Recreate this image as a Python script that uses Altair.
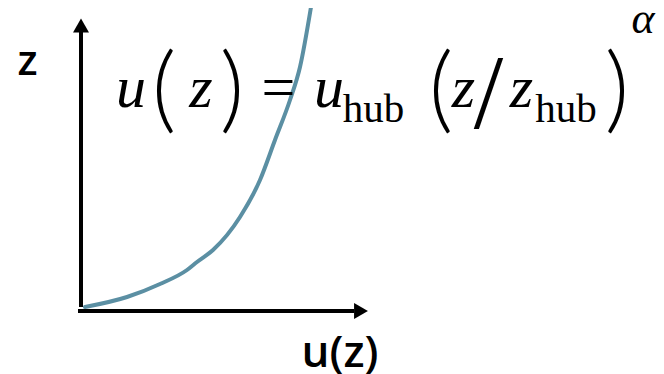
import altair as alt
import pandas as pd

# Wind profile curve u(z) (arbitrary units)
u_vals = [0.4, 4.6, 7.9, 10.6, 11.6, 13.2, 15.9, 17.9, 19.4, 20.9, 21.9, 23.0]
z_vals = [0.4, 1.4, 2.7, 4.1, 4.9, 6.1, 9.4, 13.1, 17.1, 21.1, 24.4, 30.4]

curve = pd.DataFrame({"u": u_vals, "z": z_vals, "order": list(range(len(u_vals)))})

W, H = 648, 366
one = alt.Data(values=[{"k": 1}])

xs = alt.Scale(domain=[-7.3, 57.5], nice=False, zero=False)
ys = alt.Scale(domain=[-6.3, 30.3], nice=False, zero=False)

line = alt.Chart(curve).mark_line(color="#5b8fa3", strokeWidth=4, strokeCap="round",
                                  interpolate="monotone").encode(
    x=alt.X("u:Q", scale=xs, axis=None),
    y=alt.Y("z:Q", scale=ys, axis=None),
    order="order:O",
)

def rule(x, x2, y, y2):
    return alt.Chart(one).mark_rule(color="black", strokeWidth=4).encode(
        x=alt.value(x), x2=alt.value(x2), y=alt.value(y), y2=alt.value(y2))

vaxis = rule(73, 73, 299, 24)
haxis = rule(70, 346, 303, 303)

def arrow(shape, x, y):
    return alt.Chart(one).mark_point(shape=shape, size=256, filled=True, color="black", opacity=1).encode(
        x=alt.value(x), y=alt.value(y))

varrow = arrow("triangle-up", 73, 17.5)
harrow = arrow("triangle-right", 353, 303)

def txt(s, x, y, size, font="Liberation Serif", style="normal", weight="normal", align="center"):
    return alt.Chart(one).mark_text(text=s, fontSize=size, font=font, fontStyle=style,
                                    fontWeight=weight, align=align, baseline="alphabetic",
                                    color="black").encode(x=alt.value(x), y=alt.value(y))

zlab = txt("z", 19.5, 67, 42, font="Open Sans", weight=600)
ulab = txt("u(z)", 332, 359, 44, font="Open Sans", weight=600)

F = 60   # main math font size
P = 95   # big parentheses
S = 41   # subscript
PF = "Lato"
eq = [
    txt("u", 123, 99, F, style="italic"),
    txt("(", 156, 113, P, font=PF, weight=300),
    txt("z", 193, 99, F, style="italic"),
    txt(")", 224, 113, P, font=PF, weight=300),
    txt("=", 270.5, 99, F),
    txt("u", 321, 99, F, style="italic"),
    txt("hub", 365.5, 114, S),
    txt("(", 433, 113, P, font=PF, weight=300),
    txt("z", 455.5, 99, F, style="italic"),
    txt("/", 480.5, 120, 106),
    txt("z", 513.5, 99, F, style="italic"),
    txt("hub", 558, 114, S),
    txt(")", 609, 113, P, font=PF, weight=300),
    txt("\u03b1", 635, 25, 44, style="italic"),
]

chart = alt.layer(vaxis, haxis, varrow, harrow, line, zlab, ulab, *eq).properties(
    width=W, height=H, padding=0, autosize=alt.AutoSizeParams(type="none")
).configure_view(stroke=None)

chart.save("out.html", embed_options={"renderer": "svg", "actions": False})
